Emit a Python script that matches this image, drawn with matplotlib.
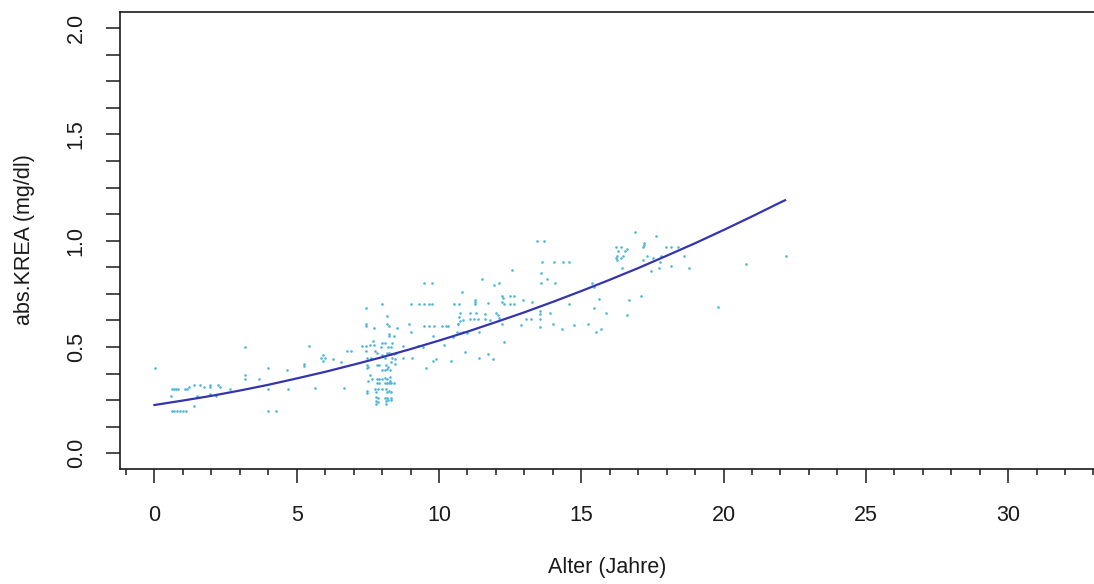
import matplotlib
matplotlib.use("Agg")
import matplotlib.pyplot as plt
from matplotlib.ticker import MultipleLocator

# observed values: age (years) and absolute creatinine (mg/dl)
age_years = [
    0.02, 3.18, 0.62, 0.70, 0.76, 0.83, 1.07, 1.14, 1.20, 0.58,
    1.38, 1.60, 1.73, 1.95, 1.95, 2.22, 2.30, 1.48, 1.97, 2.16,
    2.67, 0.60, 0.70, 0.80, 0.90, 1.00, 1.10, 1.38, 3.20, 3.20,
    3.68, 3.99, 3.99, 4.00, 4.27, 4.65, 4.70, 5.24,
    9.47, 9.76, 7.98, 9.00, 9.30, 9.47, 9.65, 9.76, 10.53, 10.71,
    7.42, 8.18, 7.43, 7.43, 8.18, 8.25, 7.71, 8.53, 8.96,
    9.47, 9.65, 9.83, 10.12, 10.25, 10.33, 10.66,
    8.25, 8.25, 8.42, 9.02, 9.78, 10.48,
    7.69, 7.98, 8.10, 8.34,
    7.30, 7.42, 7.57, 7.71, 7.95, 8.22, 8.30, 8.75, 9.27, 9.45, 10.19,
    5.43, 6.75, 6.90, 7.42, 7.75, 7.81,
    8.18, 8.25, 8.30, 8.42, 8.50,
    5.93, 5.85, 5.99, 5.91,
    6.26, 6.54, 7.46, 7.60, 7.98, 8.10, 8.34, 8.45, 8.75, 9.06, 9.78, 9.89, 10.41,
    5.27, 7.46, 7.52, 7.46, 7.81, 7.90, 8.14, 8.22, 8.30, 8.45,
    8.00, 8.10, 8.18, 8.28, 9.53,
    7.57, 7.63, 7.52, 7.81, 7.90, 7.98, 8.10, 8.18, 8.28, 8.28,
    7.81, 7.90, 8.10, 8.18, 8.26, 8.32, 8.42,
    5.64, 6.66,
    7.46, 7.46, 7.75, 7.80, 7.87, 7.98, 8.14, 8.18, 8.26, 8.30,
    7.78, 7.84, 8.10, 8.18, 8.30,
    7.80, 7.84, 8.15, 8.22, 8.30, 8.14, 7.80,
    13.43, 13.70, 13.63, 14.05, 14.37, 14.58,
    13.58, 12.56, 11.50, 13.58, 14.07, 13.79, 11.93, 12.10, 10.80,
    12.20, 12.25, 12.22, 12.30, 12.50, 12.64,
    11.27, 11.28, 11.27, 11.73, 12.50, 12.64, 12.96, 13.26, 14.58,
    15.37, 15.46, 15.62, 15.46, 15.86, 13.55, 13.55, 13.90,
    10.74, 11.09, 11.29, 11.62, 12.00, 12.08,
    10.70, 10.75, 10.68, 10.85,
    11.10, 11.23, 11.36, 11.60, 11.78, 12.10,
    12.20, 12.87, 13.05, 13.23, 13.55, 14.00, 13.55, 14.33, 14.76, 15.25, 15.52, 15.68,
    10.62, 10.74, 10.85, 10.97, 11.40,
    12.28, 10.91, 11.40, 11.73, 11.91,
    16.89, 17.63, 16.22, 16.40, 16.30, 16.25, 16.45, 16.52, 16.60,
    16.22, 16.24, 16.40, 17.20, 17.22, 17.18, 17.97, 18.15, 18.39,
    17.32, 17.51, 17.18, 17.80, 17.77, 18.61,
    18.14, 18.79, 17.74, 16.44, 17.44, 20.79, 22.18,
    16.68, 17.09, 16.62, 19.82,
]
krea_mgdl = [
    0.40, 0.50, 0.30, 0.30, 0.30, 0.30, 0.30, 0.30, 0.31, 0.27,
    0.32, 0.32, 0.31, 0.32, 0.31, 0.32, 0.31, 0.27, 0.28, 0.27,
    0.30, 0.20, 0.20, 0.20, 0.20, 0.20, 0.20, 0.22, 0.37, 0.35,
    0.35, 0.40, 0.30, 0.20, 0.20, 0.39, 0.30, 0.42,
    0.80, 0.80, 0.70, 0.70, 0.70, 0.70, 0.70, 0.70, 0.70, 0.70,
    0.685, 0.645, 0.61, 0.60, 0.61, 0.60, 0.59, 0.59, 0.61,
    0.60, 0.60, 0.60, 0.60, 0.60, 0.60, 0.61,
    0.56, 0.55, 0.55, 0.57, 0.55, 0.545,
    0.53, 0.52, 0.52, 0.52,
    0.505, 0.505, 0.51, 0.51, 0.50, 0.50, 0.50, 0.505, 0.505, 0.50, 0.51,
    0.505, 0.48, 0.48, 0.48, 0.48, 0.47,
    0.47, 0.47, 0.465, 0.465, 0.47,
    0.46, 0.45, 0.45, 0.435,
    0.445, 0.43, 0.45, 0.45, 0.46, 0.45, 0.45, 0.445, 0.45, 0.45, 0.435, 0.445, 0.435,
    0.41, 0.415, 0.405, 0.40, 0.415, 0.415, 0.415, 0.405, 0.43, 0.42,
    0.39, 0.39, 0.395, 0.39, 0.40,
    0.37, 0.35, 0.34, 0.35, 0.35, 0.35, 0.355, 0.35, 0.36, 0.34,
    0.33, 0.33, 0.33, 0.33, 0.33, 0.33, 0.33,
    0.305, 0.305,
    0.295, 0.285, 0.30, 0.29, 0.30, 0.30, 0.30, 0.29, 0.295, 0.29,
    0.265, 0.26, 0.26, 0.26, 0.26,
    0.245, 0.24, 0.245, 0.25, 0.25, 0.23, 0.23,
    1.00, 1.00, 0.90, 0.90, 0.90, 0.90,
    0.85, 0.86, 0.82, 0.80, 0.80, 0.82, 0.79, 0.80, 0.76,
    0.74, 0.73, 0.71, 0.70, 0.74, 0.74,
    0.72, 0.71, 0.70, 0.705, 0.70, 0.70, 0.72, 0.71, 0.70,
    0.80, 0.78, 0.725, 0.685, 0.66, 0.67, 0.655, 0.66,
    0.66, 0.66, 0.66, 0.655, 0.66, 0.65,
    0.64, 0.62, 0.61, 0.625,
    0.63, 0.63, 0.63, 0.63, 0.625, 0.635,
    0.61, 0.605, 0.63, 0.63, 0.63, 0.61, 0.595, 0.585, 0.605, 0.61, 0.57, 0.585,
    0.57, 0.565, 0.57, 0.565, 0.57,
    0.525, 0.475, 0.45, 0.465, 0.445,
    1.04, 1.02, 0.97, 0.97, 0.95, 0.93, 0.93, 0.95, 0.96,
    0.92, 0.91, 0.92, 0.99, 0.98, 0.97, 0.97, 0.97, 0.97,
    0.93, 0.92, 0.91, 0.93, 0.90, 0.93,
    0.88, 0.87, 0.87, 0.87, 0.855, 0.89, 0.93,
    0.72, 0.74, 0.65, 0.69,
]

# fitted curve
fit_age = [0, 1, 2, 3, 4, 5, 6, 7, 8, 9, 10, 11, 12, 13, 14, 15, 16, 17,
           18, 19, 20, 21, 22, 22.16]
fit_krea = [0.227, 0.248, 0.270, 0.295, 0.322, 0.352, 0.383, 0.417, 0.452,
            0.490, 0.530, 0.572, 0.617, 0.663, 0.712, 0.763, 0.816, 0.871,
            0.929, 0.988, 1.050, 1.114, 1.180, 1.190]

x_ticks = [0, 5, 10, 15, 20, 25, 30]
y_ticks = [0.0, 0.5, 1.0, 1.5, 2.0]

plt.rcParams["font.family"] = ["Liberation Sans", "DejaVu Sans"]
text_color = "#1a1a1a"

fig = plt.figure(figsize=(10.94, 5.84), dpi=100)
# the plot box runs past the right edge of the picture, so its right side is cut off
ax = fig.add_axes([120 / 1094, 1 - 469 / 584, (1102 - 120) / 1094, (469 - 11.7) / 584])

ax.scatter(age_years, krea_mgdl, s=3.5, color="#4db6d8", linewidths=0, zorder=2)
ax.plot(fit_age, fit_krea, color="#3434b0", lw=1.6, zorder=3)

ax.set_xlim(-1.21, 33.30)
ax.set_ylim(-0.074, 2.077)

ax.set_xticks(x_ticks)
ax.xaxis.set_minor_locator(MultipleLocator(1))
ax.set_yticks(y_ticks)
ax.set_yticklabels([f"{v:.1f}" for v in y_ticks], rotation=90, va="center")
ax.yaxis.set_minor_locator(MultipleLocator(0.125))

ax.tick_params(axis="both", which="both", direction="out", width=1.1,
               colors=text_color, labelsize=15.5)
ax.tick_params(axis="x", which="major", length=10, pad=16)
ax.tick_params(axis="x", which="minor", length=4.3)
ax.tick_params(axis="y", which="both", length=10, pad=14)

for side in ax.spines.values():
    side.set_linewidth(1.2)
    side.set_color(text_color)

fig.text(607 / 1094, 1 - 568 / 584, "Alter (Jahre)", ha="center", va="center",
         fontsize=15.5, color=text_color)
fig.text(25 / 1094, 1 - 240 / 584, "abs.KREA (mg/dl)", ha="center", va="center",
         rotation=90, fontsize=15.5, color=text_color)

fig.savefig("out.png", dpi=100)
